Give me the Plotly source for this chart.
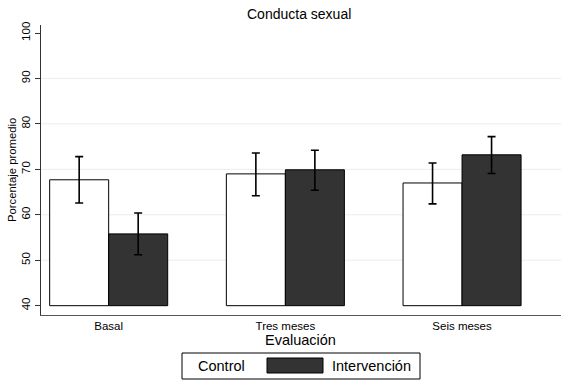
import plotly.graph_objects as go

# Mean percentage with 95% CI per evaluation point
categorias = ["Basal", "Tres meses", "Seis meses"]
control_media = [67.7, 69.0, 67.0]
control_ic_sup = [72.8, 73.6, 71.4]
control_ic_inf = [62.6, 64.2, 62.4]
interv_media = [55.8, 69.9, 73.2]
interv_ic_sup = [60.4, 74.2, 77.2]
interv_ic_inf = [51.2, 65.4, 69.1]
base = 40
y_ticks = [40, 50, 60, 70, 80, 90, 100]
grid_vals = [50, 60, 70, 80, 90]

FONT = "Liberation Sans, Arial, sans-serif"
W, H = 563, 380
L, R, T, B = 41, 2, 25, 65
PW, PH = W - L - R, H - T - B


def px_x(p):
    return (p - L) / PW


def px_y(p):
    return (H - B - p) / PH


def bar_trace(name, media, sup, inf, fill):
    return go.Bar(
        name=name,
        x=categorias,
        y=[m - base for m in media],
        base=base,
        marker=dict(color=fill, line=dict(color="black", width=1)),
        error_y=dict(
            type="data",
            symmetric=False,
            array=[s - m for s, m in zip(sup, media)],
            arrayminus=[m - i for m, i in zip(media, inf)],
            color="black",
            thickness=1.6,
            width=4,
        ),
        showlegend=False,
    )


fig = go.Figure()
fig.add_trace(bar_trace("Control", control_media, control_ic_sup, control_ic_inf, "white"))
fig.add_trace(bar_trace("Intervención", interv_media, interv_ic_sup, interv_ic_inf, "#333333"))

shapes = []
for g in grid_vals:
    shapes.append(dict(type="line", xref="paper", yref="y", x0=0, x1=1, y0=g, y1=g,
                       line=dict(color="#e6eff0", width=1), layer="below"))

# Legend box drawn in paper coordinates
shapes.append(dict(type="rect", xref="paper", yref="paper",
                   x0=px_x(182), x1=px_x(420), y0=px_y(379), y1=px_y(353),
                   line=dict(color="black", width=1), fillcolor="white"))
shapes.append(dict(type="rect", xref="paper", yref="paper",
                   x0=px_x(267), x1=px_x(323), y0=px_y(373), y1=px_y(358),
                   line=dict(color="black", width=1), fillcolor="#333333"))

annotations = [
    dict(text="Conducta sexual", xref="paper", yref="paper", x=px_x(299), y=px_y(14),
         showarrow=False, font=dict(family=FONT, size=14, color="black"),
         xanchor="center", yanchor="middle"),
    dict(text="Evaluación", xref="paper", yref="paper", x=px_x(300), y=px_y(340),
         showarrow=False, font=dict(family=FONT, size=14.5, color="black"),
         xanchor="center", yanchor="middle"),
    dict(text="Porcentaje promedio", xref="paper", yref="paper", x=px_x(12), y=0.5,
         textangle=-90, showarrow=False, font=dict(family=FONT, size=11.3, color="black"),
         xanchor="center", yanchor="middle"),
    dict(text="Control", xref="paper", yref="paper", x=px_x(221.5), y=px_y(366),
         showarrow=False, font=dict(family=FONT, size=14.5, color="black"),
         xanchor="center", yanchor="middle"),
    dict(text="Intervención", xref="paper", yref="paper", x=px_x(371), y=px_y(366),
         showarrow=False, font=dict(family=FONT, size=14.5, color="black"),
         xanchor="center", yanchor="middle"),
]

fig.update_layout(
    width=W, height=H,
    margin=dict(l=L, r=R, t=T, b=B, pad=0),
    paper_bgcolor="white", plot_bgcolor="white",
    barmode="group", bargap=0.332, bargroupgap=0,
    font=dict(family=FONT, color="black"),
    shapes=shapes, annotations=annotations,
    xaxis=dict(
        type="category", range=[-0.383, 2.56],
        showline=True, linecolor="#555555", linewidth=1,
        ticks="", showgrid=False, zeroline=False,
        tickfont=dict(family=FONT, size=11.5, color="black"),
    ),
    yaxis=dict(
        range=[37.95, 101.76], tickvals=y_ticks,
        showline=True, linecolor="#333333", linewidth=1,
        ticks="outside", ticklen=5, tickcolor="#333333",
        tickangle=-90, showgrid=False, zeroline=False,
        tickfont=dict(family=FONT, size=11.5, color="black"),
    ),
)

fig.write_html("out.html")
